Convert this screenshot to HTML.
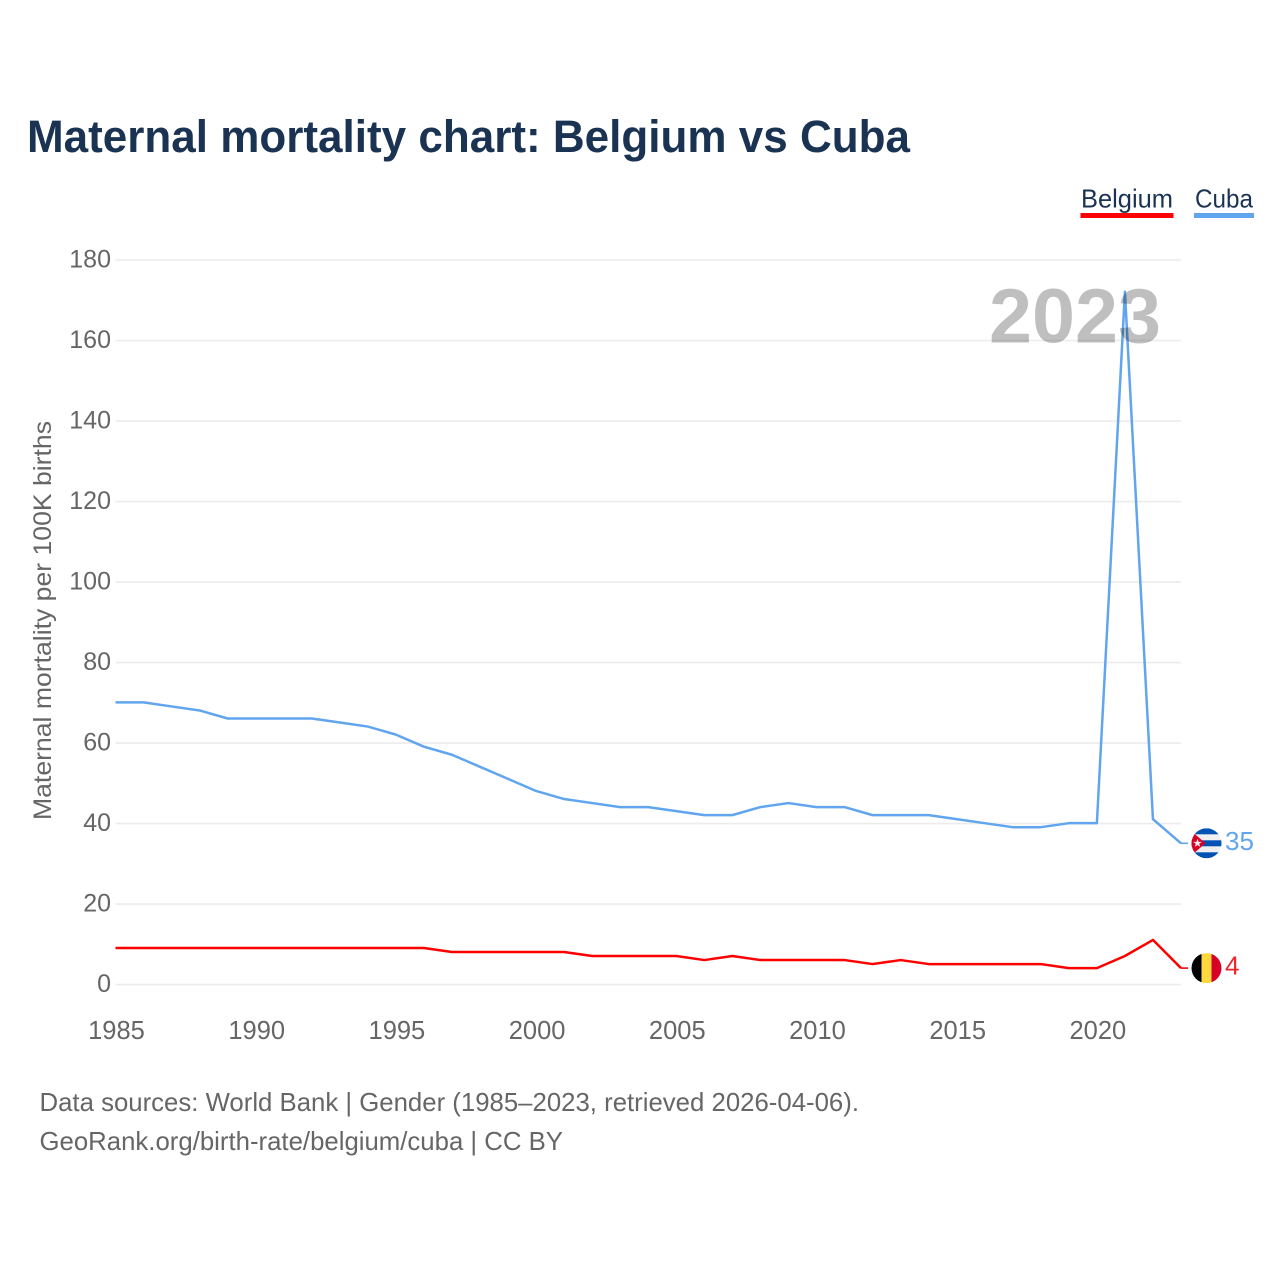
<!DOCTYPE html>
<html lang="en">
<head>
<meta charset="utf-8">
<title>Maternal mortality chart: Belgium vs Cuba</title>
<style>
html,body{margin:0;padding:0;background:#fff;width:1280px;height:1280px;overflow:hidden}
svg{display:block}
text{font-family:"Liberation Sans",sans-serif}
</style>
</head>
<body>
<svg id="chart" width="1280" height="1280" viewBox="0 0 1280 1280" xmlns="http://www.w3.org/2000/svg">
  <defs>
    <clipPath id="flag-clip"><circle cx="0" cy="0" r="15"/></clipPath>
  </defs>
  <text x="27" y="152" font-size="45" font-weight="700" fill="#1a3352" textLength="883" lengthAdjust="spacingAndGlyphs">Maternal mortality chart: Belgium vs Cuba</text>

  <g>
    <text x="1081" y="207.5" font-size="26" fill="#1a3352" textLength="92" lengthAdjust="spacingAndGlyphs">Belgium</text>
    <rect x="1080.5" y="213" width="93" height="5" fill="#ff0000"/>
  </g>
  <g>
    <text x="1195" y="207.5" font-size="26" fill="#1a3352" textLength="58" lengthAdjust="spacingAndGlyphs">Cuba</text>
    <rect x="1194" y="213" width="60" height="5" fill="#60a5ee"/>
  </g>

  <g id="grid"></g>
  <g id="y-axis"></g>
  <g id="x-axis"></g>
  <g id="series"></g>

  <text x="989" y="342.5" font-size="77" font-weight="700" fill="#000" fill-opacity="0.25" textLength="172" lengthAdjust="spacingAndGlyphs">2023</text>

  <text transform="translate(51,820) rotate(-90)" font-size="25" fill="#666" textLength="399" lengthAdjust="spacingAndGlyphs">Maternal mortality per 100K births</text>

  <g id="end-markers"></g>

  <text x="39.5" y="1111" font-size="26" fill="#666" textLength="819.5" lengthAdjust="spacingAndGlyphs">Data sources: World Bank | Gender (1985–2023, retrieved 2026-04-06).</text>
  <text x="39.5" y="1150" font-size="26" fill="#666" textLength="523.5" lengthAdjust="spacingAndGlyphs">GeoRank.org/birth-rate/belgium/cuba | CC BY</text>
</svg>

<script>
const years = [1985,1986,1987,1988,1989,1990,1991,1992,1993,1994,1995,1996,1997,1998,1999,2000,2001,2002,2003,2004,2005,2006,2007,2008,2009,2010,2011,2012,2013,2014,2015,2016,2017,2018,2019,2020,2021,2022,2023];
const belgiumValues = [9,9,9,9,9,9,9,9,9,9,9,9,8,8,8,8,8,7,7,7,7,6,7,6,6,6,6,5,6,5,5,5,5,5,4,4,7,11,4];
const cubaValues = [70,70,69,68,66,66,66,66,65,64,62,59,57,54,51,48,46,45,44,44,43,42,42,44,45,44,44,42,42,42,41,40,39,39,40,40,172,41,35];
const yTicks = [0,20,40,60,80,100,120,140,160,180];
const xTicks = [1985,1990,1995,2000,2005,2010,2015,2020];

const NS = 'http://www.w3.org/2000/svg';
const X0 = 115.5, X1 = 1181, Y0 = 984.6, Y180 = 260;
function xScale(year){ return X0 + (year - years[0]) * (X1 - X0) / (years[years.length - 1] - years[0]); }
function yScale(v){ return Y0 + (Y180 - Y0) * v / 180; }
function mk(tag, attrs, parent){
  const el = document.createElementNS(NS, tag);
  for (const k in attrs) el.setAttribute(k, attrs[k]);
  parent.appendChild(el);
  return el;
}

const grid = document.getElementById('grid');
const yAxis = document.getElementById('y-axis');
const xAxis = document.getElementById('x-axis');
const seriesGroup = document.getElementById('series');
const markers = document.getElementById('end-markers');

yTicks.forEach(function(t){
  const line = mk('line', {x1: X0, x2: X1, y1: yScale(t), y2: yScale(t), stroke: '#ececec', 'stroke-width': 1.6}, grid);
  
  
  const label = mk('text', {x: 111, y: yScale(t) + 7.5, 'text-anchor': 'end', 'font-size': 25, fill: '#666'}, yAxis);
  label.textContent = String(t);
  
  
});

xTicks.forEach(function(t){
  const label = mk('text', {x: xScale(t) + 1, y: 1039, 'text-anchor': 'middle', 'font-size': 25.5, fill: '#666'}, xAxis);
  label.textContent = String(t);
  
  
});

function linePath(values){
  return values.map(function(v, i){
    return (i ? 'L' : 'M') + xScale(years[i]).toFixed(2) + ' ' + (yScale(v) - 0.4).toFixed(2);
  }).join(' ');
}

const belgiumLine = mk('path', {d: linePath(belgiumValues), fill: 'none', stroke: '#ff0000', 'stroke-width': 2.5, 'stroke-linejoin': 'round'}, seriesGroup);



const cubaLine = mk('path', {d: linePath(cubaValues), fill: 'none', stroke: '#60a5ee', 'stroke-width': 2.5, 'stroke-linejoin': 'round'}, seriesGroup);



function endY(values){ return yScale(values[values.length - 1]) - 0.4; }

const belgiumConnector = mk('line', {x1: X1, x2: 1188, y1: endY(belgiumValues), y2: endY(belgiumValues), stroke: '#ff0000', 'stroke-width': 1.6}, markers);



const cubaConnector = mk('line', {x1: X1, x2: 1188, y1: endY(cubaValues), y2: endY(cubaValues), stroke: '#60a5ee', 'stroke-width': 1.6}, markers);



/* Belgium flag */
const beFlag = mk('g', {transform: 'translate(1206.5,' + endY(belgiumValues) + ')', 'clip-path': 'url(#flag-clip)'}, markers);


mk('rect', {x: -15, y: -15, width: 10, height: 30, fill: '#000000'}, beFlag);
mk('rect', {x: -5, y: -15, width: 10, height: 30, fill: '#ffd83d'}, beFlag);
mk('rect', {x: 5, y: -15, width: 10, height: 30, fill: '#d80027'}, beFlag);

/* Cuba flag */
const cuFlag = mk('g', {transform: 'translate(1206.5,' + endY(cubaValues) + ')', 'clip-path': 'url(#flag-clip)'}, markers);


mk('rect', {x: -15, y: -15, width: 30, height: 30, fill: '#f0f0f0'}, cuFlag);
mk('rect', {x: -15, y: -15, width: 30, height: 6, fill: '#0052b4'}, cuFlag);
mk('rect', {x: -15, y: -3, width: 30, height: 6, fill: '#0052b4'}, cuFlag);
mk('rect', {x: -15, y: 9, width: 30, height: 6, fill: '#0052b4'}, cuFlag);
mk('polygon', {points: '-15,-12 -1,0 -15,12', fill: '#d80027'}, cuFlag);
mk('polygon', {points: '-9,-4.5 -7.9,-1.4 -4.7,-1.4 -7.3,0.5 -6.3,3.6 -9,1.7 -11.7,3.6 -10.7,0.5 -13.3,-1.4 -10.1,-1.4', fill: '#f0f0f0'}, cuFlag);

const belgiumValueLabel = mk('text', {x: 1225, y: endY(belgiumValues) + 6.5, 'font-size': 26, fill: '#f0232d'}, markers);
belgiumValueLabel.textContent = String(belgiumValues[belgiumValues.length - 1]);



const cubaValueLabel = mk('text', {x: 1225, y: endY(cubaValues) + 6.5, 'font-size': 26, fill: '#60a5ee'}, markers);
cubaValueLabel.textContent = String(cubaValues[cubaValues.length - 1]);


</script>
</body>
</html>
